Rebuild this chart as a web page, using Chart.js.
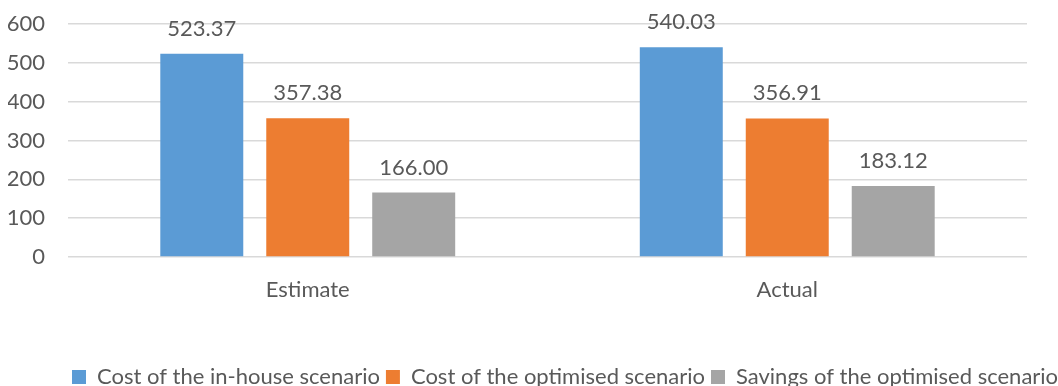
<!DOCTYPE html>
<html>
<head>
<meta charset="utf-8">
<script src="https://cdn.jsdelivr.net/npm/chart.js@4/dist/chart.umd.min.js"></script>
<style>
    html, body { margin: 0; padding: 0; background: #fff; overflow: hidden; }
    #wrap { position: relative; width: 1058px; height: 398px; }
</style>
</head>
<body>
<div id="wrap"><canvas id="scenario-chart"></canvas></div>
<script>
const categories = ['Estimate', 'Actual'];
const inHouseCost = [523.37, 540.03];
const optimisedCost = [357.38, 356.91];
const optimisedSavings = [166.00, 183.12];
const yTicks = [0, 100, 200, 300, 400, 500, 600];

const textColor = '#595959';
const fontSize = 22;

Chart.defaults.font.family = 'Lato, "Open Sans", sans-serif';
Chart.defaults.font.size = fontSize;
Chart.defaults.color = textColor;

// value labels above each bar
const barValues = {
    id: 'barValues',
    afterDatasetsDraw(chart) {
        const { ctx } = chart;
        ctx.save();
        ctx.font = fontSize + 'px Lato, sans-serif';
        ctx.fillStyle = textColor;
        ctx.textAlign = 'center';
        ctx.textBaseline = 'alphabetic';
        chart.data.datasets.forEach((ds, i) => {
            chart.getDatasetMeta(i).data.forEach((bar, j) => {
                ctx.fillText(ds.data[j].toFixed(2), bar.x, bar.y - 18);
            });
        });
        ctx.restore();
    },
};

// legend sits a little right of centre, starting under the plot
const legendShift = {
    id: 'legendShift',
    afterLayout(chart) {
        chart.legend.left += 58;
        chart.legend.right += 58;
    },
};

new Chart(document.getElementById('scenario-chart'), {
    type: 'bar',
    data: {
        labels: categories,
        datasets: [
            { label: 'Cost of the in-house scenario', data: inHouseCost, backgroundColor: '#5B9BD5' },
            { label: 'Cost of the optimised scenario', data: optimisedCost, backgroundColor: '#ED7D31' },
            { label: 'Savings of the optimised scenario', data: optimisedSavings, backgroundColor: '#A5A5A5' },
        ],
    },
    options: {
        responsive: true,
        maintainAspectRatio: false,
        animation: false,
        categoryPercentage: 0.663,
        barPercentage: 0.783,
        layout: { padding: { left: 8, right: 31, top: 24, bottom: 0 } },
        plugins: {
            legend: {
                position: 'bottom',
                align: 'start',
                labels: { boxWidth: 14, boxHeight: 14, padding: 6, color: textColor },
            },
            tooltip: { enabled: false },
        },
        scales: {
            x: {
                grid: { display: false, drawTicks: false },
                border: { display: false },
                ticks: { padding: 20, color: textColor },
                afterFit(scale) { scale.height = 103; },
            },
            y: {
                min: 0,
                max: 600,
                afterBuildTicks(scale) { scale.ticks = yTicks.map(v => ({ value: v })); },
                grid: { color: '#d9d9d9', lineWidth: 1.5, drawTicks: false },
                border: { display: false },
                ticks: { padding: 23, color: textColor },
                afterFit(scale) {
                    scale.width = 60;
                    scale.paddingTop = 0;
                    scale.paddingBottom = 0;
                },
            },
        },
    },
    plugins: [barValues, legendShift],
});
</script>
</body>
</html>
